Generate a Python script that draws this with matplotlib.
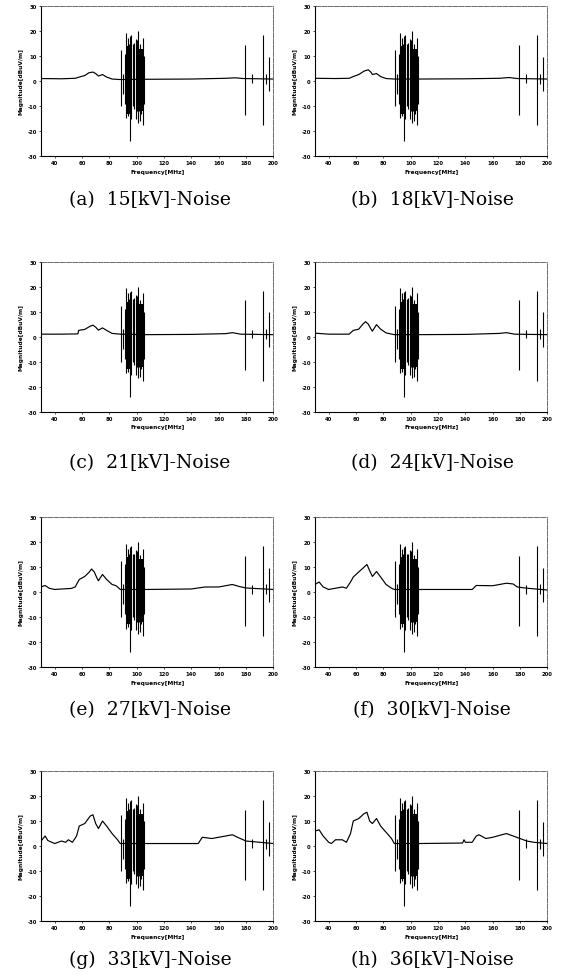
import matplotlib
matplotlib.use("Agg")
import matplotlib.pyplot as plt
import numpy as np

# ---- Panel captions -------------------------------------------------------
captions = ["(a)  15[kV]-Noise", "(b)  18[kV]-Noise",
            "(c)  21[kV]-Noise", "(d)  24[kV]-Noise",
            "(e)  27[kV]-Noise", "(f)  30[kV]-Noise",
            "(g)  33[kV]-Noise", "(h)  36[kV]-Noise"]

# ---- Background noise floor per voltage: (frequency MHz, level dBuV/m) -----
base_15 = [(30, 1.0), (45, 0.9), (55, 1.1), (58, 1.6), (62, 2.2), (65, 3.3),
           (68, 3.6), (70, 3.0), (72, 2.0), (75, 2.6), (78, 1.6), (82, 0.8),
           (88, 0.6), (106, 0.7), (140, 0.8), (165, 1.1), (172, 1.3),
           (178, 1.0), (200, 0.8)]
base_18 = [(30, 1.1), (45, 1.0), (55, 1.1), (58, 1.8), (62, 2.6), (66, 4.0),
           (69, 4.5), (71, 3.5), (72, 2.6), (75, 3.0), (78, 1.8), (82, 1.0),
           (88, 0.8), (106, 0.8), (140, 0.9), (165, 1.1), (172, 1.4),
           (178, 1.0), (200, 0.8)]
base_21 = [(30, 1.0), (45, 1.0), (57, 1.1), (57.5, 2.5), (62, 2.9), (66, 4.2),
           (68, 4.6), (70, 3.8), (72, 2.6), (75, 3.5), (78, 2.5), (82, 1.3),
           (88, 1.0), (106, 0.8), (140, 0.9), (165, 1.2), (170, 1.6),
           (176, 1.0), (200, 0.8)]
base_24 = [(30, 1.4), (40, 1.0), (55, 1.0), (58, 2.5), (62, 3.0), (65, 5.0),
           (67, 6.0), (69, 5.0), (71, 3.0), (72, 2.2), (75, 4.8), (78, 3.0),
           (82, 1.5), (88, 0.8), (106, 0.8), (140, 0.9), (165, 1.3),
           (170, 1.6), (176, 1.0), (200, 0.8)]
base_27 = [(30, 2.0), (33, 2.6), (36, 1.5), (40, 1.0), (45, 1.2), (52, 1.4),
           (55, 2.0), (58, 5.0), (62, 6.2), (65, 7.8), (67, 9.2), (69, 8.0),
           (71, 5.5), (72, 4.5), (75, 7.0), (78, 5.0), (82, 3.0), (85, 2.5),
           (88, 1.0), (106, 1.0), (140, 1.2), (150, 2.0), (160, 2.0),
           (170, 3.0), (175, 2.2), (180, 1.6), (200, 1.0)]
base_30 = [(30, 3.0), (33, 4.0), (36, 2.0), (40, 1.0), (45, 1.5), (50, 2.0),
           (53, 1.5), (56, 4.0), (58, 6.0), (62, 8.0), (66, 10.0), (68, 11.0),
           (70, 8.5), (72, 6.2), (75, 8.2), (78, 6.0), (82, 3.0), (86, 1.5),
           (88, 1.0), (106, 1.0), (145, 1.0), (148, 2.6), (160, 2.5),
           (170, 3.5), (175, 3.2), (178, 2.0), (185, 1.5), (200, 0.8)]
base_33 = [(30, 2.0), (33, 4.0), (35, 2.2), (40, 1.0), (45, 2.0), (48, 1.5),
           (50, 2.5), (53, 1.5), (56, 4.0), (58, 8.0), (62, 9.0), (66, 12.0),
           (68, 12.5), (70, 9.0), (72, 7.0), (75, 10.0), (78, 8.0), (82, 5.0),
           (86, 2.5), (88, 1.0), (106, 1.0), (145, 1.0), (148, 3.5),
           (155, 3.0), (160, 3.5), (170, 4.5), (175, 3.2), (180, 2.0),
           (190, 1.5), (200, 1.0)]
base_36 = [(30, 6.0), (33, 6.5), (36, 4.0), (40, 1.5), (42, 1.0), (45, 2.5),
           (50, 2.5), (53, 1.5), (56, 5.0), (58, 10.0), (62, 11.0), (66, 13.0),
           (68, 13.5), (70, 10.0), (72, 9.0), (75, 11.0), (78, 8.0), (82, 5.5),
           (86, 3.0), (88, 1.0), (106, 1.0), (138, 1.2), (139, 2.5),
           (140, 1.5), (145, 1.5), (148, 4.0), (150, 4.5), (155, 3.0),
           (160, 3.5), (170, 5.0), (175, 4.0), (180, 3.0), (185, 2.0),
           (190, 1.5), (200, 1.0)]
baselines = [base_15, base_18, base_21, base_24,
             base_27, base_30, base_33, base_36]

# ---- FM broadcast carriers (common to every measurement) -------------------
fm_freq = [88.2, 89.7, 91.5, 92.1, 93.6, 94.2, 94.8, 95.3, 95.8, 97.4,
           98.2, 99.4, 100.2, 100.9, 101.5, 102.1, 102.7, 103.1, 103.7,
           104.3, 105.2]
fm_top = [12.4, 3.0, 11.0, 19.3, 17.3, 15.0, 18.0, 14.0, 18.3, 15.0,
          15.3, 16.7, 16.4, 20.0, 13.0, 14.7, 11.0, 12.7, 12.0, 17.3, 10.0]
fm_bot = [-10.0, -5.0, -9.0, -14.7, -14.0, -12.0, -24.0, -13.0, -15.3,
          -10.0, -11.3, -15.3, -12.0, -16.7, -12.0, -16.0, -11.0, -13.0,
          -10.0, -17.7, -9.0]

# dense modulation bands inside the FM range: start, stop, upper, lower
band_start = [92.0, 99.6]
band_stop = [96.6, 105.0]
band_upper = [14.0, 13.0]
band_lower = [-13.0, -12.0]

# ---- VHF carriers above 170 MHz --------------------------------------------
vhf_freq = [179.6, 184.5, 192.3, 194.3, 196.7]
vhf_top = [14.5, 2.8, 18.3, 3.0, 9.7]
vhf_bot = [-13.5, -0.7, -17.7, -1.0, -4.0]

# ---- Axes layout (figure fractions) ----------------------------------------
col_left = [0.0727, 0.5585]
ax_w = 0.412
row_bottom = [0.8396, 0.5785, 0.3177, 0.0582]
ax_h = 0.1532
cap_y = [0.7957, 0.5271, 0.2748, 0.0195]
cap_x = [0.266, 0.766]

fig = plt.figure(figsize=(5.64, 9.79), dpi=100)
fig.patch.set_facecolor("white")

tick_font = dict(fontsize=3.8, fontweight="bold", family="DejaVu Sans")

for i in range(8):
    r, c = divmod(i, 2)
    ax = fig.add_axes([col_left[c], row_bottom[r], ax_w, ax_h])
    bf = [p[0] for p in baselines[i]]
    bv = [p[1] for p in baselines[i]]
    ax.plot(bf, bv, color="black", lw=0.85)

    for f0, f1, up, lo in zip(band_start, band_stop, band_upper, band_lower):
        ax.fill_between([f0, f1], [lo, lo], [up, up], color="black", lw=0)
    ax.vlines(fm_freq, fm_bot, fm_top, color="black", lw=0.8)
    ax.vlines(vhf_freq, vhf_bot, vhf_top, color="black", lw=0.8)

    ax.set_xlim(30, 200)
    ax.set_ylim(-30, 30)
    ax.set_xticks(np.arange(40, 201, 20))
    ax.set_yticks(np.arange(-30, 31, 10))
    ax.set_xticklabels([str(v) for v in range(40, 201, 20)], **tick_font)
    ax.set_yticklabels([str(v) for v in range(-30, 31, 10)], **tick_font)
    ax.tick_params(length=1.5, width=0.5, pad=1.5)
    ax.set_xlabel("Frequency[MHz]", fontsize=4.2, fontweight="bold",
                  labelpad=2.5)
    ax.set_ylabel("Magnitude[dBuV/m]", fontsize=4.2, fontweight="bold",
                  labelpad=3)
    for side in ("left", "bottom"):
        ax.spines[side].set_linewidth(0.8)
    for side in ("top", "right"):
        ax.spines[side].set_linewidth(0.6)
        ax.spines[side].set_color("#555555")
        ax.spines[side].set_linestyle((0, (6, 1.5)))

    fig.text(cap_x[c], cap_y[r], captions[i], ha="center", va="center",
             fontsize=13.5, family="DejaVu Serif")

fig.savefig("out.png", dpi=100, facecolor="white")
